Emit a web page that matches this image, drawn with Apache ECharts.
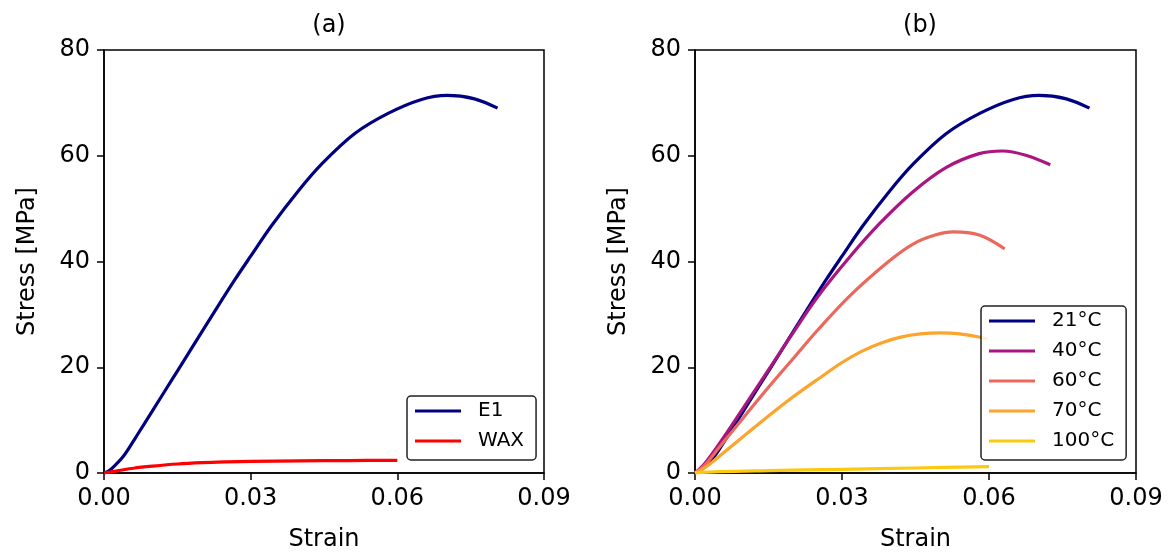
<!DOCTYPE html>
<html>
<head>
  <meta charset="utf-8">
  <title>Stress-strain</title>
  <script src="https://cdn.jsdelivr.net/npm/echarts@6/dist/echarts.min.js"></script>
<style>
  html, body { margin: 0; padding: 0; background: #fff; }
  #main { width: 1170px; height: 552px; }
</style>
</head>
<body>
<div id="main"></div>
<script type="text/javascript">
    // tick labels
    var strainTicks = [0, 0.03, 0.06, 0.09];
    var stressTicks = [0, 20, 40, 60, 80];

    // (a) E1 / (b) 21°C  -- same test
    var e1Strain = [0, 0.001, 0.002, 0.004, 0.0066, 0.010, 0.014, 0.018, 0.0228, 0.0268, 0.030, 0.0343, 0.0397, 0.0446, 0.0513, 0.0581, 0.0648, 0.0702, 0.0756, 0.0805];
    var e1Stress = [0, 0.4, 1.2, 3.2, 6.9, 11.9, 17.8, 23.7, 30.8, 36.6, 41.0, 46.8, 53.3, 58.5, 64.2, 68.0, 70.6, 71.4, 70.8, 69.0];

    var waxStrain = [0, 0.003, 0.006, 0.01, 0.015, 0.02, 0.025, 0.03, 0.04, 0.05, 0.06];
    var waxStress = [0, 0.45, 0.9, 1.3, 1.7, 1.95, 2.1, 2.2, 2.3, 2.35, 2.4];

    var t40Strain = [0, 0.002, 0.005, 0.01, 0.015, 0.02, 0.025, 0.0317, 0.0377, 0.0445, 0.0513, 0.058, 0.0628, 0.0675, 0.0725];
    var t40Stress = [0, 1.8, 5.6, 12.5, 19.5, 26.5, 33.3, 41.0, 47.2, 53.2, 57.8, 60.4, 60.9, 60.1, 58.3];

    var t60Strain = [0, 0.002, 0.005, 0.01, 0.015, 0.02, 0.025, 0.0317, 0.0395, 0.0445, 0.049, 0.0527, 0.058, 0.0632];
    var t60Stress = [0, 1.5, 4.9, 10.6, 16.2, 21.6, 27.0, 33.6, 40.0, 43.3, 45.0, 45.6, 45.0, 42.4];

    var t70Strain = [0, 0.002, 0.005, 0.008, 0.0126, 0.0193, 0.0261, 0.030, 0.034, 0.038, 0.042, 0.046, 0.050, 0.054, 0.0597];
    var t70Stress = [0, 1.0, 3.2, 5.5, 9.0, 13.9, 18.4, 20.9, 23.0, 24.6, 25.7, 26.3, 26.5, 26.3, 25.4];

    var t100Strain = [0, 0.005, 0.015, 0.03, 0.045, 0.06];
    var t100Stress = [0, 0.25, 0.45, 0.7, 0.95, 1.2];

    function pairs(xs, ys) {
        return xs.map(function (x, i) { return [x, ys[i]]; });
    }

    var font = 'DejaVu Sans';
    var black = '#000';

    function xAx(idx) {
        return {
            type: 'value', gridIndex: idx,
            min: strainTicks[0], max: strainTicks[strainTicks.length - 1], interval: 0.03,
            name: 'Strain', nameLocation: 'middle', nameGap: 55,
            nameTextStyle: { fontFamily: font, fontSize: 24, color: black },
            axisLine: { show: true, onZero: false, lineStyle: { color: black, width: 1.5 } },
            axisTick: { show: true, length: 7, lineStyle: { color: black, width: 1.5 } },
            axisLabel: { margin: 14, fontFamily: font, fontSize: 24, color: black,
                formatter: function (v) { return v.toFixed(2); } },
            splitLine: { show: false }
        };
    }
    function yAx(idx) {
        return {
            type: 'value', gridIndex: idx,
            min: stressTicks[0], max: stressTicks[stressTicks.length - 1], interval: 20,
            name: 'Stress [MPa]', nameLocation: 'middle', nameGap: 64,
            nameTextStyle: { fontFamily: font, fontSize: 24, color: black },
            axisLine: { show: true, onZero: false, lineStyle: { color: black, width: 1.5 } },
            axisTick: { show: true, length: 7, lineStyle: { color: black, width: 1.5 } },
            axisLabel: { margin: 14, fontFamily: font, fontSize: 24, color: black },
            splitLine: { show: false }
        };
    }
    function line(name, idx, data, color) {
        return {
            name: name, type: 'line', xAxisIndex: idx, yAxisIndex: idx,
            data: data, showSymbol: false, smooth: 0.35,
            lineStyle: { color: color, width: 3.2 }, itemStyle: { color: color }
        };
    }
    function legend(names, left, top) {
        return {
            data: names, orient: 'vertical', left: left, top: top,
            icon: 'rect', itemWidth: 46, itemHeight: 3, itemGap: 10,
            padding: [5, 12, 9, 8],
            backgroundColor: 'rgba(255,255,255,0.8)',
            borderColor: '#222', borderWidth: 1.5, borderRadius: 4,
            selectedMode: false,
            textStyle: { fontFamily: font, fontSize: 20, color: black, lineHeight: 20, padding: [0, 0, 0, 12] }
        };
    }

    var chart = echarts.init(document.getElementById('main'));
    var option = {
        animation: false,
        backgroundColor: '#fff',
        title: [
            { text: '(a)', left: 324, top: 9, textAlign: 'center',
              textStyle: { fontFamily: font, fontSize: 24, fontWeight: 'normal', color: black } },
            { text: '(b)', left: 915, top: 9, textAlign: 'center',
              textStyle: { fontFamily: font, fontSize: 24, fontWeight: 'normal', color: black } }
        ],
        grid: [
            { left: 104, right: 626, top: 50, bottom: 79, outerBoundsMode: 'none',
              show: true, borderColor: black, borderWidth: 1.5 },
            { left: 695, right: 34, top: 50, bottom: 79, outerBoundsMode: 'none',
              show: true, borderColor: black, borderWidth: 1.5 }
        ],
        xAxis: [xAx(0), xAx(1)],
        yAxis: [yAx(0), yAx(1)],
        legend: [
            legend(['E1', 'WAX'], 407, 396),
            legend(['21°C', '40°C', '60°C', '70°C', '100°C'], 981, 306)
        ],
        series: [
            line('E1', 0, pairs(e1Strain, e1Stress), '#000080'),
            line('WAX', 0, pairs(waxStrain, waxStress), '#ff0000'),
            line('21°C', 1, pairs(e1Strain, e1Stress), '#000080'),
            line('40°C', 1, pairs(t40Strain, t40Stress), '#ab1580'),
            line('60°C', 1, pairs(t60Strain, t60Stress), '#eb685d'),
            line('70°C', 1, pairs(t70Strain, t70Stress), '#fca42c'),
            line('100°C', 1, pairs(t100Strain, t100Stress), '#fdc90c')
        ]
    };
    chart.setOption(option);
</script>
</body>
</html>
